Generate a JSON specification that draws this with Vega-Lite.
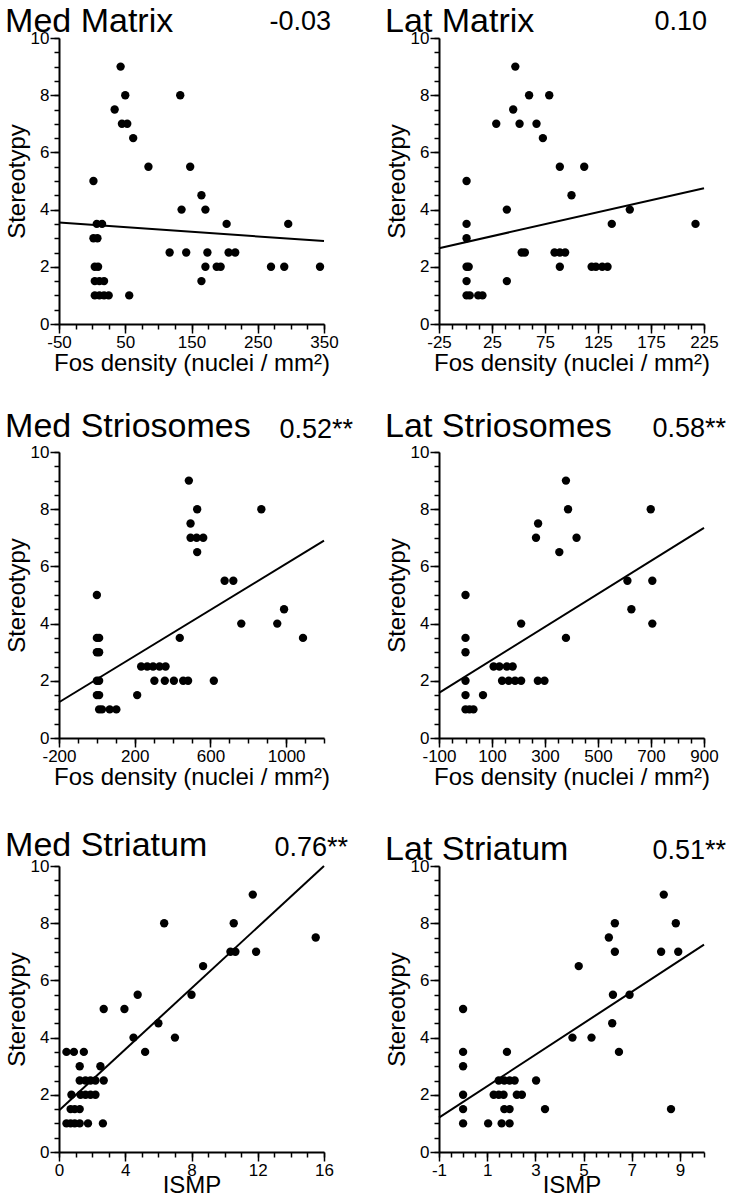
{
  "$schema": "https://vega.github.io/schema/vega-lite/v6.json",
  "padding": {"left": 5, "top": 5, "right": 0, "bottom": 0},
  "background": "white",
  "columns": 2,
  "bounds": "flush",
  "spacing": {"row": 128, "column": 115},
  "datasets": {
    "points": [
      {"panel": "Med Matrix", "measure": 43, "stereotypy": 9},
      {"panel": "Med Matrix", "measure": 50, "stereotypy": 8},
      {"panel": "Med Matrix", "measure": 34, "stereotypy": 7.5},
      {"panel": "Med Matrix", "measure": 45, "stereotypy": 7},
      {"panel": "Med Matrix", "measure": 53, "stereotypy": 7},
      {"panel": "Med Matrix", "measure": 62, "stereotypy": 6.5},
      {"panel": "Med Matrix", "measure": 85, "stereotypy": 5.5},
      {"panel": "Med Matrix", "measure": 133, "stereotypy": 8},
      {"panel": "Med Matrix", "measure": 148, "stereotypy": 5.5},
      {"panel": "Med Matrix", "measure": 2, "stereotypy": 5},
      {"panel": "Med Matrix", "measure": 135, "stereotypy": 4},
      {"panel": "Med Matrix", "measure": 165, "stereotypy": 4.5},
      {"panel": "Med Matrix", "measure": 171, "stereotypy": 4},
      {"panel": "Med Matrix", "measure": 203, "stereotypy": 3.5},
      {"panel": "Med Matrix", "measure": 296, "stereotypy": 3.5},
      {"panel": "Med Matrix", "measure": 7, "stereotypy": 3.5},
      {"panel": "Med Matrix", "measure": 15, "stereotypy": 3.5},
      {"panel": "Med Matrix", "measure": 2, "stereotypy": 3},
      {"panel": "Med Matrix", "measure": 8, "stereotypy": 3},
      {"panel": "Med Matrix", "measure": 117, "stereotypy": 2.5},
      {"panel": "Med Matrix", "measure": 142, "stereotypy": 2.5},
      {"panel": "Med Matrix", "measure": 174, "stereotypy": 2.5},
      {"panel": "Med Matrix", "measure": 206, "stereotypy": 2.5},
      {"panel": "Med Matrix", "measure": 216, "stereotypy": 2.5},
      {"panel": "Med Matrix", "measure": 4, "stereotypy": 2},
      {"panel": "Med Matrix", "measure": 9, "stereotypy": 2},
      {"panel": "Med Matrix", "measure": 171, "stereotypy": 2},
      {"panel": "Med Matrix", "measure": 188, "stereotypy": 2},
      {"panel": "Med Matrix", "measure": 194, "stereotypy": 2},
      {"panel": "Med Matrix", "measure": 270, "stereotypy": 2},
      {"panel": "Med Matrix", "measure": 290, "stereotypy": 2},
      {"panel": "Med Matrix", "measure": 344, "stereotypy": 2},
      {"panel": "Med Matrix", "measure": 165, "stereotypy": 1.5},
      {"panel": "Med Matrix", "measure": 4, "stereotypy": 1.5},
      {"panel": "Med Matrix", "measure": 11, "stereotypy": 1.5},
      {"panel": "Med Matrix", "measure": 18, "stereotypy": 1.5},
      {"panel": "Med Matrix", "measure": 4, "stereotypy": 1},
      {"panel": "Med Matrix", "measure": 11, "stereotypy": 1},
      {"panel": "Med Matrix", "measure": 18, "stereotypy": 1},
      {"panel": "Med Matrix", "measure": 25, "stereotypy": 1},
      {"panel": "Med Matrix", "measure": 56, "stereotypy": 1},

      {"panel": "Lat Matrix", "measure": 47, "stereotypy": 9},
      {"panel": "Lat Matrix", "measure": 45, "stereotypy": 7.5},
      {"panel": "Lat Matrix", "measure": 29, "stereotypy": 7},
      {"panel": "Lat Matrix", "measure": 51, "stereotypy": 7},
      {"panel": "Lat Matrix", "measure": 67, "stereotypy": 7},
      {"panel": "Lat Matrix", "measure": 60, "stereotypy": 8},
      {"panel": "Lat Matrix", "measure": 79, "stereotypy": 8},
      {"panel": "Lat Matrix", "measure": 73, "stereotypy": 6.5},
      {"panel": "Lat Matrix", "measure": 89, "stereotypy": 5.5},
      {"panel": "Lat Matrix", "measure": 112, "stereotypy": 5.5},
      {"panel": "Lat Matrix", "measure": 100, "stereotypy": 4.5},
      {"panel": "Lat Matrix", "measure": 1, "stereotypy": 5},
      {"panel": "Lat Matrix", "measure": 39, "stereotypy": 4},
      {"panel": "Lat Matrix", "measure": 155, "stereotypy": 4},
      {"panel": "Lat Matrix", "measure": 138, "stereotypy": 3.5},
      {"panel": "Lat Matrix", "measure": 217, "stereotypy": 3.5},
      {"panel": "Lat Matrix", "measure": 1, "stereotypy": 3.5},
      {"panel": "Lat Matrix", "measure": 1, "stereotypy": 3},
      {"panel": "Lat Matrix", "measure": 1, "stereotypy": 2},
      {"panel": "Lat Matrix", "measure": 3, "stereotypy": 2},
      {"panel": "Lat Matrix", "measure": 1, "stereotypy": 1.5},
      {"panel": "Lat Matrix", "measure": 1, "stereotypy": 1},
      {"panel": "Lat Matrix", "measure": 4, "stereotypy": 1},
      {"panel": "Lat Matrix", "measure": 12, "stereotypy": 1},
      {"panel": "Lat Matrix", "measure": 16, "stereotypy": 1},
      {"panel": "Lat Matrix", "measure": 39, "stereotypy": 1.5},
      {"panel": "Lat Matrix", "measure": 53, "stereotypy": 2.5},
      {"panel": "Lat Matrix", "measure": 56, "stereotypy": 2.5},
      {"panel": "Lat Matrix", "measure": 84, "stereotypy": 2.5},
      {"panel": "Lat Matrix", "measure": 89, "stereotypy": 2.5},
      {"panel": "Lat Matrix", "measure": 94, "stereotypy": 2.5},
      {"panel": "Lat Matrix", "measure": 89, "stereotypy": 2},
      {"panel": "Lat Matrix", "measure": 119, "stereotypy": 2},
      {"panel": "Lat Matrix", "measure": 123, "stereotypy": 2},
      {"panel": "Lat Matrix", "measure": 129, "stereotypy": 2},
      {"panel": "Lat Matrix", "measure": 134, "stereotypy": 2},

      {"panel": "Med Striosomes", "measure": 486, "stereotypy": 9},
      {"panel": "Med Striosomes", "measure": 530, "stereotypy": 8},
      {"panel": "Med Striosomes", "measure": 869, "stereotypy": 8},
      {"panel": "Med Striosomes", "measure": 495, "stereotypy": 7.5},
      {"panel": "Med Striosomes", "measure": 495, "stereotypy": 7},
      {"panel": "Med Striosomes", "measure": 527, "stereotypy": 7},
      {"panel": "Med Striosomes", "measure": 562, "stereotypy": 7},
      {"panel": "Med Striosomes", "measure": 530, "stereotypy": 6.5},
      {"panel": "Med Striosomes", "measure": 675, "stereotypy": 5.5},
      {"panel": "Med Striosomes", "measure": 721, "stereotypy": 5.5},
      {"panel": "Med Striosomes", "measure": 763, "stereotypy": 4},
      {"panel": "Med Striosomes", "measure": 953, "stereotypy": 4},
      {"panel": "Med Striosomes", "measure": 989, "stereotypy": 4.5},
      {"panel": "Med Striosomes", "measure": 1089, "stereotypy": 3.5},
      {"panel": "Med Striosomes", "measure": 438, "stereotypy": 3.5},
      {"panel": "Med Striosomes", "measure": 0, "stereotypy": 5},
      {"panel": "Med Striosomes", "measure": 0, "stereotypy": 3.5},
      {"panel": "Med Striosomes", "measure": 12, "stereotypy": 3.5},
      {"panel": "Med Striosomes", "measure": 0, "stereotypy": 3},
      {"panel": "Med Striosomes", "measure": 12, "stereotypy": 3},
      {"panel": "Med Striosomes", "measure": 0, "stereotypy": 2},
      {"panel": "Med Striosomes", "measure": 12, "stereotypy": 2},
      {"panel": "Med Striosomes", "measure": 0, "stereotypy": 1.5},
      {"panel": "Med Striosomes", "measure": 12, "stereotypy": 1.5},
      {"panel": "Med Striosomes", "measure": 12, "stereotypy": 1},
      {"panel": "Med Striosomes", "measure": 27, "stereotypy": 1},
      {"panel": "Med Striosomes", "measure": 68, "stereotypy": 1},
      {"panel": "Med Striosomes", "measure": 103, "stereotypy": 1},
      {"panel": "Med Striosomes", "measure": 213, "stereotypy": 1.5},
      {"panel": "Med Striosomes", "measure": 234, "stereotypy": 2.5},
      {"panel": "Med Striosomes", "measure": 266, "stereotypy": 2.5},
      {"panel": "Med Striosomes", "measure": 297, "stereotypy": 2.5},
      {"panel": "Med Striosomes", "measure": 331, "stereotypy": 2.5},
      {"panel": "Med Striosomes", "measure": 363, "stereotypy": 2.5},
      {"panel": "Med Striosomes", "measure": 304, "stereotypy": 2},
      {"panel": "Med Striosomes", "measure": 359, "stereotypy": 2},
      {"panel": "Med Striosomes", "measure": 407, "stereotypy": 2},
      {"panel": "Med Striosomes", "measure": 456, "stereotypy": 2},
      {"panel": "Med Striosomes", "measure": 482, "stereotypy": 2},
      {"panel": "Med Striosomes", "measure": 618, "stereotypy": 2},

      {"panel": "Lat Striosomes", "measure": 379, "stereotypy": 9},
      {"panel": "Lat Striosomes", "measure": 387, "stereotypy": 8},
      {"panel": "Lat Striosomes", "measure": 699, "stereotypy": 8},
      {"panel": "Lat Striosomes", "measure": 274, "stereotypy": 7.5},
      {"panel": "Lat Striosomes", "measure": 266, "stereotypy": 7},
      {"panel": "Lat Striosomes", "measure": 419, "stereotypy": 7},
      {"panel": "Lat Striosomes", "measure": 354, "stereotypy": 6.5},
      {"panel": "Lat Striosomes", "measure": 611, "stereotypy": 5.5},
      {"panel": "Lat Striosomes", "measure": 705, "stereotypy": 5.5},
      {"panel": "Lat Striosomes", "measure": 626, "stereotypy": 4.5},
      {"panel": "Lat Striosomes", "measure": 705, "stereotypy": 4},
      {"panel": "Lat Striosomes", "measure": 210, "stereotypy": 4},
      {"panel": "Lat Striosomes", "measure": 379, "stereotypy": 3.5},
      {"panel": "Lat Striosomes", "measure": 0, "stereotypy": 5},
      {"panel": "Lat Striosomes", "measure": 0, "stereotypy": 3.5},
      {"panel": "Lat Striosomes", "measure": 0, "stereotypy": 3},
      {"panel": "Lat Striosomes", "measure": 0, "stereotypy": 2},
      {"panel": "Lat Striosomes", "measure": 0, "stereotypy": 1.5},
      {"panel": "Lat Striosomes", "measure": 0, "stereotypy": 1},
      {"panel": "Lat Striosomes", "measure": 15, "stereotypy": 1},
      {"panel": "Lat Striosomes", "measure": 30, "stereotypy": 1},
      {"panel": "Lat Striosomes", "measure": 66, "stereotypy": 1.5},
      {"panel": "Lat Striosomes", "measure": 106, "stereotypy": 2.5},
      {"panel": "Lat Striosomes", "measure": 128, "stereotypy": 2.5},
      {"panel": "Lat Striosomes", "measure": 156, "stereotypy": 2.5},
      {"panel": "Lat Striosomes", "measure": 178, "stereotypy": 2.5},
      {"panel": "Lat Striosomes", "measure": 138, "stereotypy": 2},
      {"panel": "Lat Striosomes", "measure": 163, "stereotypy": 2},
      {"panel": "Lat Striosomes", "measure": 187, "stereotypy": 2},
      {"panel": "Lat Striosomes", "measure": 210, "stereotypy": 2},
      {"panel": "Lat Striosomes", "measure": 273, "stereotypy": 2},
      {"panel": "Lat Striosomes", "measure": 298, "stereotypy": 2},

      {"panel": "Med Striatum", "measure": 11.7, "stereotypy": 9},
      {"panel": "Med Striatum", "measure": 6.35, "stereotypy": 8},
      {"panel": "Med Striatum", "measure": 10.55, "stereotypy": 8},
      {"panel": "Med Striatum", "measure": 15.5, "stereotypy": 7.5},
      {"panel": "Med Striatum", "measure": 10.35, "stereotypy": 7},
      {"panel": "Med Striatum", "measure": 10.65, "stereotypy": 7},
      {"panel": "Med Striatum", "measure": 11.9, "stereotypy": 7},
      {"panel": "Med Striatum", "measure": 8.7, "stereotypy": 6.5},
      {"panel": "Med Striatum", "measure": 8, "stereotypy": 5.5},
      {"panel": "Med Striatum", "measure": 4.75, "stereotypy": 5.5},
      {"panel": "Med Striatum", "measure": 3.95, "stereotypy": 5},
      {"panel": "Med Striatum", "measure": 2.7, "stereotypy": 5},
      {"panel": "Med Striatum", "measure": 6, "stereotypy": 4.5},
      {"panel": "Med Striatum", "measure": 4.5, "stereotypy": 4},
      {"panel": "Med Striatum", "measure": 7, "stereotypy": 4},
      {"panel": "Med Striatum", "measure": 5.2, "stereotypy": 3.5},
      {"panel": "Med Striatum", "measure": 0.45, "stereotypy": 3.5},
      {"panel": "Med Striatum", "measure": 0.9, "stereotypy": 3.5},
      {"panel": "Med Striatum", "measure": 1.5, "stereotypy": 3.5},
      {"panel": "Med Striatum", "measure": 1.25, "stereotypy": 3},
      {"panel": "Med Striatum", "measure": 2.5, "stereotypy": 3},
      {"panel": "Med Striatum", "measure": 1.25, "stereotypy": 2.5},
      {"panel": "Med Striatum", "measure": 1.6, "stereotypy": 2.5},
      {"panel": "Med Striatum", "measure": 1.9, "stereotypy": 2.5},
      {"panel": "Med Striatum", "measure": 2.2, "stereotypy": 2.5},
      {"panel": "Med Striatum", "measure": 2.7, "stereotypy": 2.5},
      {"panel": "Med Striatum", "measure": 0.75, "stereotypy": 2},
      {"panel": "Med Striatum", "measure": 1.3, "stereotypy": 2},
      {"panel": "Med Striatum", "measure": 1.6, "stereotypy": 2},
      {"panel": "Med Striatum", "measure": 1.9, "stereotypy": 2},
      {"panel": "Med Striatum", "measure": 2.2, "stereotypy": 2},
      {"panel": "Med Striatum", "measure": 0.7, "stereotypy": 1.5},
      {"panel": "Med Striatum", "measure": 0.95, "stereotypy": 1.5},
      {"panel": "Med Striatum", "measure": 1.25, "stereotypy": 1.5},
      {"panel": "Med Striatum", "measure": 0.45, "stereotypy": 1},
      {"panel": "Med Striatum", "measure": 0.7, "stereotypy": 1},
      {"panel": "Med Striatum", "measure": 0.95, "stereotypy": 1},
      {"panel": "Med Striatum", "measure": 1.25, "stereotypy": 1},
      {"panel": "Med Striatum", "measure": 1.75, "stereotypy": 1},
      {"panel": "Med Striatum", "measure": 2.65, "stereotypy": 1},

      {"panel": "Lat Striatum", "measure": 8.33, "stereotypy": 9},
      {"panel": "Lat Striatum", "measure": 6.3, "stereotypy": 8},
      {"panel": "Lat Striatum", "measure": 8.83, "stereotypy": 8},
      {"panel": "Lat Striatum", "measure": 6.05, "stereotypy": 7.5},
      {"panel": "Lat Striatum", "measure": 6.3, "stereotypy": 7},
      {"panel": "Lat Striatum", "measure": 8.22, "stereotypy": 7},
      {"panel": "Lat Striatum", "measure": 8.93, "stereotypy": 7},
      {"panel": "Lat Striatum", "measure": 4.8, "stereotypy": 6.5},
      {"panel": "Lat Striatum", "measure": 6.22, "stereotypy": 5.5},
      {"panel": "Lat Striatum", "measure": 6.91, "stereotypy": 5.5},
      {"panel": "Lat Striatum", "measure": 6.19, "stereotypy": 4.5},
      {"panel": "Lat Striatum", "measure": 4.54, "stereotypy": 4},
      {"panel": "Lat Striatum", "measure": 5.33, "stereotypy": 4},
      {"panel": "Lat Striatum", "measure": 6.47, "stereotypy": 3.5},
      {"panel": "Lat Striatum", "measure": 8.63, "stereotypy": 1.5},
      {"panel": "Lat Striatum", "measure": 0, "stereotypy": 5},
      {"panel": "Lat Striatum", "measure": 0, "stereotypy": 3.5},
      {"panel": "Lat Striatum", "measure": 0, "stereotypy": 3},
      {"panel": "Lat Striatum", "measure": 0, "stereotypy": 2},
      {"panel": "Lat Striatum", "measure": 0, "stereotypy": 1.5},
      {"panel": "Lat Striatum", "measure": 0, "stereotypy": 1},
      {"panel": "Lat Striatum", "measure": 1.04, "stereotypy": 1},
      {"panel": "Lat Striatum", "measure": 1.82, "stereotypy": 3.5},
      {"panel": "Lat Striatum", "measure": 1.48, "stereotypy": 2.5},
      {"panel": "Lat Striatum", "measure": 1.71, "stereotypy": 2.5},
      {"panel": "Lat Striatum", "measure": 1.93, "stereotypy": 2.5},
      {"panel": "Lat Striatum", "measure": 2.14, "stereotypy": 2.5},
      {"panel": "Lat Striatum", "measure": 3.03, "stereotypy": 2.5},
      {"panel": "Lat Striatum", "measure": 1.27, "stereotypy": 2},
      {"panel": "Lat Striatum", "measure": 1.48, "stereotypy": 2},
      {"panel": "Lat Striatum", "measure": 1.68, "stereotypy": 2},
      {"panel": "Lat Striatum", "measure": 2.23, "stereotypy": 2},
      {"panel": "Lat Striatum", "measure": 2.44, "stereotypy": 2},
      {"panel": "Lat Striatum", "measure": 1.71, "stereotypy": 1.5},
      {"panel": "Lat Striatum", "measure": 1.93, "stereotypy": 1.5},
      {"panel": "Lat Striatum", "measure": 1.6, "stereotypy": 1},
      {"panel": "Lat Striatum", "measure": 1.93, "stereotypy": 1},
      {"panel": "Lat Striatum", "measure": 3.4, "stereotypy": 1.5}
    ],
    "fits": [
      {"panel": "Med Matrix", "measure": -50, "stereotypy": 3.55},
      {"panel": "Med Matrix", "measure": 350, "stereotypy": 2.9},
      {"panel": "Lat Matrix", "measure": -25, "stereotypy": 2.65},
      {"panel": "Lat Matrix", "measure": 225, "stereotypy": 4.75},
      {"panel": "Med Striosomes", "measure": -200, "stereotypy": 1.25},
      {"panel": "Med Striosomes", "measure": 1200, "stereotypy": 6.9},
      {"panel": "Lat Striosomes", "measure": -100, "stereotypy": 1.58},
      {"panel": "Lat Striosomes", "measure": 900, "stereotypy": 7.35},
      {"panel": "Med Striatum", "measure": 0, "stereotypy": 1.45},
      {"panel": "Med Striatum", "measure": 16, "stereotypy": 10},
      {"panel": "Lat Striatum", "measure": -1, "stereotypy": 1.2},
      {"panel": "Lat Striatum", "measure": 10, "stereotypy": 7.25}
    ],
    "labels": [
      {"panel": "Med Matrix", "r": "-0.03"},
      {"panel": "Lat Matrix", "r": "0.10"},
      {"panel": "Med Striosomes", "r": "0.52**"},
      {"panel": "Lat Striosomes", "r": "0.58**"},
      {"panel": "Med Striatum", "r": "0.76**"},
      {"panel": "Lat Striatum", "r": "0.51**"}
    ]
  },
  "concat": [
    {
      "width": 265, "height": 286,
      "title": {"text": "Med Matrix", "offset": -31},
      "layer": [
        {"data": {"name": "fits"}, "transform": [{"filter": "datum.panel === 'Med Matrix'"}],
         "mark": {"type": "line", "color": "black", "strokeWidth": 2},
         "encoding": {
           "x": {"field": "measure", "type": "quantitative", "scale": {"domain": [-50, 350], "nice": false, "zero": false},
                 "axis": {"orient": "bottom", "values": [-50,-25,0,25,50,75,100,125,150,175,200,225,250,275,300,325,350], "labels": false, "tickSize": 5, "domain": false, "title": null}},
           "y": {"field": "stereotypy", "type": "quantitative", "scale": {"domain": [0, 10], "nice": false, "zero": false},
                 "axis": {"orient": "left", "values": [0,0.5,1,1.5,2,2.5,3,3.5,4,4.5,5,5.5,6,6.5,7,7.5,8,8.5,9,9.5,10], "labels": false, "tickSize": 5, "domain": false, "title": null}}
         }},
        {"data": {"name": "points"}, "transform": [{"filter": "datum.panel === 'Med Matrix'"}],
         "mark": {"type": "circle", "size": 70, "color": "black", "opacity": 1},
         "encoding": {
           "x": {"field": "measure", "type": "quantitative", "axis": {"orient": "bottom", "values": [-50,50,150,250,350], "tickSize": 9, "labelExpr": "'' + datum.value", "title": "Fos density (nuclei / mm²)", "titleFontSize": 24}},
           "y": {"field": "stereotypy", "type": "quantitative", "axis": {"orient": "left", "values": [0,2,4,6,8,10], "tickSize": 9, "labelExpr": "'' + datum.value", "title": "Stereotypy", "titleFontSize": 24}}
         }},
        {"data": {"name": "labels"}, "transform": [{"filter": "datum.panel === 'Med Matrix'"}],
         "mark": {"type": "text", "align": "right", "baseline": "alphabetic", "dx": 7, "dy": -8, "fontSize": 27, "color": "black"},
         "encoding": {"x": {"datum": 350, "type": "quantitative", "axis": null}, "y": {"datum": 10, "type": "quantitative", "axis": null}, "text": {"field": "r"}}}
      ],
      "resolve": {"axis": {"x": "independent", "y": "independent"}}
    },
    {
      "width": 265, "height": 286,
      "title": {"text": "Lat Matrix", "offset": -31},
      "layer": [
        {"data": {"name": "fits"}, "transform": [{"filter": "datum.panel === 'Lat Matrix'"}],
         "mark": {"type": "line", "color": "black", "strokeWidth": 2},
         "encoding": {
           "x": {"field": "measure", "type": "quantitative", "scale": {"domain": [-25, 225], "nice": false, "zero": false},
                 "axis": {"orient": "bottom", "values": [-25,-12.5,0,12.5,25,37.5,50,62.5,75,87.5,100,112.5,125,137.5,150,162.5,175,187.5,200,212.5,225], "labels": false, "tickSize": 5, "domain": false, "title": null}},
           "y": {"field": "stereotypy", "type": "quantitative", "scale": {"domain": [0, 10], "nice": false, "zero": false},
                 "axis": {"orient": "left", "values": [0,0.5,1,1.5,2,2.5,3,3.5,4,4.5,5,5.5,6,6.5,7,7.5,8,8.5,9,9.5,10], "labels": false, "tickSize": 5, "domain": false, "title": null}}
         }},
        {"data": {"name": "points"}, "transform": [{"filter": "datum.panel === 'Lat Matrix'"}],
         "mark": {"type": "circle", "size": 70, "color": "black", "opacity": 1},
         "encoding": {
           "x": {"field": "measure", "type": "quantitative", "axis": {"orient": "bottom", "values": [-25,25,75,125,175,225], "tickSize": 9, "labelExpr": "'' + datum.value", "title": "Fos density (nuclei / mm²)", "titleFontSize": 24}},
           "y": {"field": "stereotypy", "type": "quantitative", "axis": {"orient": "left", "values": [0,2,4,6,8,10], "tickSize": 9, "labelExpr": "'' + datum.value", "title": "Stereotypy", "titleFontSize": 24}}
         }},
        {"data": {"name": "labels"}, "transform": [{"filter": "datum.panel === 'Lat Matrix'"}],
         "mark": {"type": "text", "align": "right", "baseline": "alphabetic", "dx": 3, "dy": -8, "fontSize": 27, "color": "black"},
         "encoding": {"x": {"datum": 225, "type": "quantitative", "axis": null}, "y": {"datum": 10, "type": "quantitative", "axis": null}, "text": {"field": "r"}}}
      ],
      "resolve": {"axis": {"x": "independent", "y": "independent"}}
    },
    {
      "width": 265, "height": 286,
      "title": {"text": "Med Striosomes", "offset": -28},
      "layer": [
        {"data": {"name": "fits"}, "transform": [{"filter": "datum.panel === 'Med Striosomes'"}],
         "mark": {"type": "line", "color": "black", "strokeWidth": 2},
         "encoding": {
           "x": {"field": "measure", "type": "quantitative", "scale": {"domain": [-200, 1200], "nice": false, "zero": false},
                 "axis": {"orient": "bottom", "values": [-200,-100,0,100,200,300,400,500,600,700,800,900,1000,1100,1200], "labels": false, "tickSize": 5, "domain": false, "title": null}},
           "y": {"field": "stereotypy", "type": "quantitative", "scale": {"domain": [0, 10], "nice": false, "zero": false},
                 "axis": {"orient": "left", "values": [0,0.5,1,1.5,2,2.5,3,3.5,4,4.5,5,5.5,6,6.5,7,7.5,8,8.5,9,9.5,10], "labels": false, "tickSize": 5, "domain": false, "title": null}}
         }},
        {"data": {"name": "points"}, "transform": [{"filter": "datum.panel === 'Med Striosomes'"}],
         "mark": {"type": "circle", "size": 70, "color": "black", "opacity": 1},
         "encoding": {
           "x": {"field": "measure", "type": "quantitative", "axis": {"orient": "bottom", "values": [-200,200,600,1000], "tickSize": 9, "labelExpr": "'' + datum.value", "title": "Fos density (nuclei / mm²)", "titleFontSize": 24}},
           "y": {"field": "stereotypy", "type": "quantitative", "axis": {"orient": "left", "values": [0,2,4,6,8,10], "tickSize": 9, "labelExpr": "'' + datum.value", "title": "Stereotypy", "titleFontSize": 24}}
         }},
        {"data": {"name": "labels"}, "transform": [{"filter": "datum.panel === 'Med Striosomes'"}],
         "mark": {"type": "text", "align": "right", "baseline": "alphabetic", "dx": 29, "dy": -14, "fontSize": 27, "color": "black"},
         "encoding": {"x": {"datum": 1200, "type": "quantitative", "axis": null}, "y": {"datum": 10, "type": "quantitative", "axis": null}, "text": {"field": "r"}}}
      ],
      "resolve": {"axis": {"x": "independent", "y": "independent"}}
    },
    {
      "width": 265, "height": 286,
      "title": {"text": "Lat Striosomes", "offset": -29},
      "layer": [
        {"data": {"name": "fits"}, "transform": [{"filter": "datum.panel === 'Lat Striosomes'"}],
         "mark": {"type": "line", "color": "black", "strokeWidth": 2},
         "encoding": {
           "x": {"field": "measure", "type": "quantitative", "scale": {"domain": [-100, 900], "nice": false, "zero": false},
                 "axis": {"orient": "bottom", "values": [-100,-50,0,50,100,150,200,250,300,350,400,450,500,550,600,650,700,750,800,850,900], "labels": false, "tickSize": 5, "domain": false, "title": null}},
           "y": {"field": "stereotypy", "type": "quantitative", "scale": {"domain": [0, 10], "nice": false, "zero": false},
                 "axis": {"orient": "left", "values": [0,0.5,1,1.5,2,2.5,3,3.5,4,4.5,5,5.5,6,6.5,7,7.5,8,8.5,9,9.5,10], "labels": false, "tickSize": 5, "domain": false, "title": null}}
         }},
        {"data": {"name": "points"}, "transform": [{"filter": "datum.panel === 'Lat Striosomes'"}],
         "mark": {"type": "circle", "size": 70, "color": "black", "opacity": 1},
         "encoding": {
           "x": {"field": "measure", "type": "quantitative", "axis": {"orient": "bottom", "values": [-100,100,300,500,700,900], "tickSize": 9, "labelExpr": "'' + datum.value", "title": "Fos density (nuclei / mm²)", "titleFontSize": 24}},
           "y": {"field": "stereotypy", "type": "quantitative", "axis": {"orient": "left", "values": [0,2,4,6,8,10], "tickSize": 9, "labelExpr": "'' + datum.value", "title": "Stereotypy", "titleFontSize": 24}}
         }},
        {"data": {"name": "labels"}, "transform": [{"filter": "datum.panel === 'Lat Striosomes'"}],
         "mark": {"type": "text", "align": "right", "baseline": "alphabetic", "dx": 22, "dy": -15, "fontSize": 27, "color": "black"},
         "encoding": {"x": {"datum": 900, "type": "quantitative", "axis": null}, "y": {"datum": 10, "type": "quantitative", "axis": null}, "text": {"field": "r"}}}
      ],
      "resolve": {"axis": {"x": "independent", "y": "independent"}}
    },
    {
      "width": 265, "height": 286,
      "title": {"text": "Med Striatum", "offset": -29},
      "layer": [
        {"data": {"name": "fits"}, "transform": [{"filter": "datum.panel === 'Med Striatum'"}],
         "mark": {"type": "line", "color": "black", "strokeWidth": 2},
         "encoding": {
           "x": {"field": "measure", "type": "quantitative", "scale": {"domain": [0, 16], "nice": false, "zero": false},
                 "axis": {"orient": "bottom", "values": [0,1,2,3,4,5,6,7,8,9,10,11,12,13,14,15,16], "labels": false, "tickSize": 5, "domain": false, "title": null}},
           "y": {"field": "stereotypy", "type": "quantitative", "scale": {"domain": [0, 10], "nice": false, "zero": false},
                 "axis": {"orient": "left", "values": [0,0.5,1,1.5,2,2.5,3,3.5,4,4.5,5,5.5,6,6.5,7,7.5,8,8.5,9,9.5,10], "labels": false, "tickSize": 5, "domain": false, "title": null}}
         }},
        {"data": {"name": "points"}, "transform": [{"filter": "datum.panel === 'Med Striatum'"}],
         "mark": {"type": "circle", "size": 70, "color": "black", "opacity": 1},
         "encoding": {
           "x": {"field": "measure", "type": "quantitative", "axis": {"orient": "bottom", "values": [0,4,8,12,16], "tickSize": 9, "labelExpr": "'' + datum.value", "title": "ISMP", "titleFontSize": 24, "titlePadding": -5}},
           "y": {"field": "stereotypy", "type": "quantitative", "axis": {"orient": "left", "values": [0,2,4,6,8,10], "tickSize": 9, "labelExpr": "'' + datum.value", "title": "Stereotypy", "titleFontSize": 24}}
         }},
        {"data": {"name": "labels"}, "transform": [{"filter": "datum.panel === 'Med Striatum'"}],
         "mark": {"type": "text", "align": "right", "baseline": "alphabetic", "dx": 24, "dy": -10, "fontSize": 27, "color": "black"},
         "encoding": {"x": {"datum": 16, "type": "quantitative", "axis": null}, "y": {"datum": 10, "type": "quantitative", "axis": null}, "text": {"field": "r"}}}
      ],
      "resolve": {"axis": {"x": "independent", "y": "independent"}}
    },
    {
      "width": 265, "height": 286,
      "title": {"text": "Lat Striatum", "offset": -30},
      "layer": [
        {"data": {"name": "fits"}, "transform": [{"filter": "datum.panel === 'Lat Striatum'"}],
         "mark": {"type": "line", "color": "black", "strokeWidth": 2},
         "encoding": {
           "x": {"field": "measure", "type": "quantitative", "scale": {"domain": [-1, 10], "nice": false, "zero": false},
                 "axis": {"orient": "bottom", "values": [-1,-0.5,0,0.5,1,1.5,2,2.5,3,3.5,4,4.5,5,5.5,6,6.5,7,7.5,8,8.5,9,9.5,10], "labels": false, "tickSize": 5, "domain": false, "title": null}},
           "y": {"field": "stereotypy", "type": "quantitative", "scale": {"domain": [0, 10], "nice": false, "zero": false},
                 "axis": {"orient": "left", "values": [0,0.5,1,1.5,2,2.5,3,3.5,4,4.5,5,5.5,6,6.5,7,7.5,8,8.5,9,9.5,10], "labels": false, "tickSize": 5, "domain": false, "title": null}}
         }},
        {"data": {"name": "points"}, "transform": [{"filter": "datum.panel === 'Lat Striatum'"}],
         "mark": {"type": "circle", "size": 70, "color": "black", "opacity": 1},
         "encoding": {
           "x": {"field": "measure", "type": "quantitative", "axis": {"orient": "bottom", "values": [-1,1,3,5,7,9], "tickSize": 9, "labelExpr": "'' + datum.value", "title": "ISMP", "titleFontSize": 24, "titlePadding": -5}},
           "y": {"field": "stereotypy", "type": "quantitative", "axis": {"orient": "left", "values": [0,2,4,6,8,10], "tickSize": 9, "labelExpr": "'' + datum.value", "title": "Stereotypy", "titleFontSize": 24}}
         }},
        {"data": {"name": "labels"}, "transform": [{"filter": "datum.panel === 'Lat Striatum'"}],
         "mark": {"type": "text", "align": "right", "baseline": "alphabetic", "dx": 22, "dy": -7, "fontSize": 27, "color": "black"},
         "encoding": {"x": {"datum": 10, "type": "quantitative", "axis": null}, "y": {"datum": 10, "type": "quantitative", "axis": null}, "text": {"field": "r"}}}
      ],
      "resolve": {"axis": {"x": "independent", "y": "independent"}}
    }
  ],
  "config": {
    "font": "Liberation Sans",
    "view": {"stroke": null},
    "axis": {
      "domainColor": "black", "domainWidth": 2, "tickColor": "black", "tickWidth": 1.5,
      "labelColor": "black", "labelFont": "Liberation Sans", "labelFontSize": 17, "labelPadding": 1,
      "titleColor": "black", "titleFont": "Liberation Sans", "titleFontSize": 24, "titleFontWeight": "normal",
      "titlePadding": 1, "grid": false, "labelFlush": false, "labelOverlap": false
    },
    "title": {"font": "Liberation Sans", "fontSize": 34, "fontWeight": "normal", "anchor": "start", "frame": "bounds", "color": "black"},
    "text": {"font": "Liberation Sans"}
  }
}
